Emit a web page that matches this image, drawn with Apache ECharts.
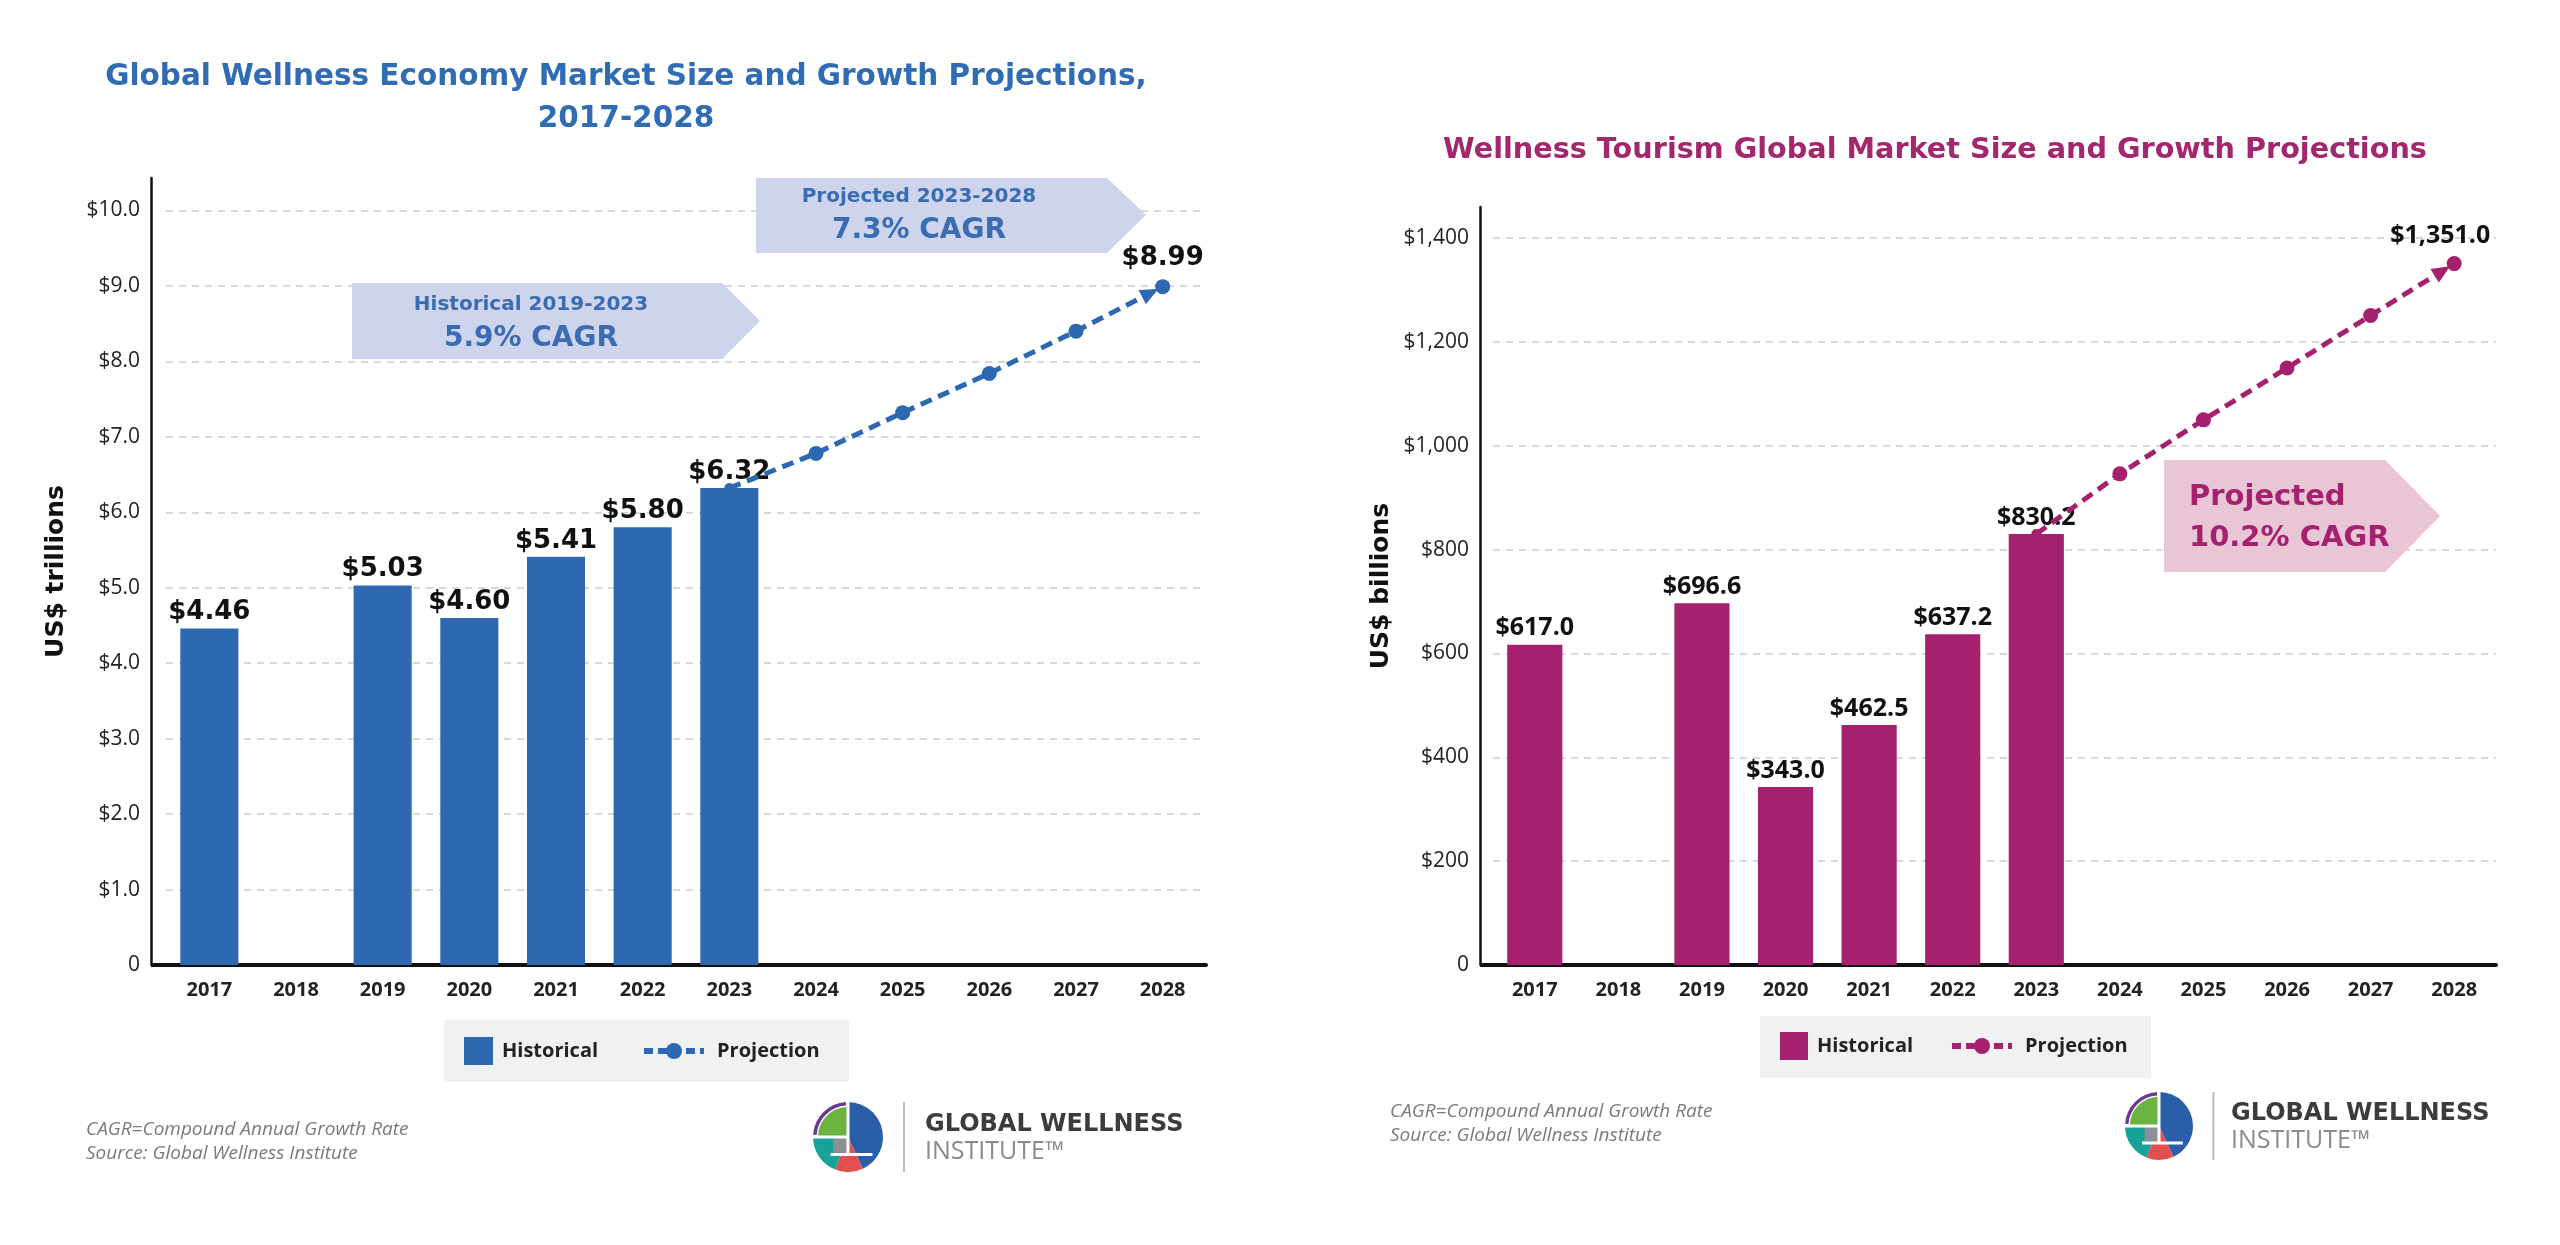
<!DOCTYPE html>
<html>
<head>
<meta charset="utf-8">
<script src="https://cdn.jsdelivr.net/npm/echarts@6/dist/echarts.min.js"></script>
<style>
html,body{margin:0;padding:0;background:#fff;}
#chart{width:2560px;height:1245px;}
</style>
</head>
<body>
<div id="chart"></div>
<script>
// ---------- DATA ----------
const years = ['2017','2018','2019','2020','2021','2022','2023','2024','2025','2026','2027','2028'];
const economyHistorical = [4.46, null, 5.03, 4.60, 5.41, 5.80, 6.32, null, null, null, null, null];
const economyProjection = [null, null, null, null, null, null, 6.32, 6.78, 7.32, 7.84, 8.40, 8.99];
const tourismHistorical = [617.0, null, 696.6, 343.0, 462.5, 637.2, 830.2, null, null, null, null, null];
const tourismProjection = [null, null, null, null, null, null, 830.2, 946, 1050, 1150, 1251, 1351.0];
const economyTitle = 'Global Wellness Economy Market Size and Growth Projections,\n2017-2028';
const tourismTitle = 'Wellness Tourism Global Market Size and Growth Projections';
const economyNotes = ['Historical 2019-2023', '5.9% CAGR', 'Projected 2023-2028', '7.3% CAGR'];
const tourismNotes = ['Projected', '10.2% CAGR'];
const footnotes = ['CAGR=Compound Annual Growth Rate', 'Source: Global Wellness Institute'];

// ---------- STYLE ----------
const FONT = '"Open Sans", "Noto Sans", sans-serif';
const WIDE = '"DejaVu Sans", "Open Sans", sans-serif';
const BLUE = '#2e68b1';
const MAG = '#a5216e';
const last = years.length - 1;

const chart = echarts.init(document.getElementById('chart'));

function fmtEco(v){ return '$' + v.toFixed(2); }
function fmtTour(v){ return '$' + v.toLocaleString('en-US', {minimumFractionDigits:1, maximumFractionDigits:1}); }

function yAxisCommon(extra){
  return Object.assign({
    type: 'value', min: 0,
    nameLocation: 'middle', nameRotate: 90,
    nameTextStyle: {fontFamily: WIDE, fontSize: 25, fontWeight: 'bold', color: '#111'},
    axisLine: {show: true, lineStyle: {color: '#111', width: 2.5}},
    axisTick: {show: false},
    splitLine: {show: true, showMaxLine: false, lineStyle: {color: '#d8d8d8', width: 2, type: [7, 6]}}
  }, extra);
}
function xAxisCommon(idx){
  return {
    type: 'category', gridIndex: idx, data: years,
    axisLine: {show: true, lineStyle: {color: '#111', width: 4}},
    axisTick: {show: false},
    axisLabel: {fontFamily: FONT, fontSize: 20, fontWeight: 'bold', color: '#222', margin: 15, interval: 0}
  };
}

function logo(cx, cy, r, tx){
  const c = [];
  c.push({type:'sector', shape:{cx, cy, r, r0:0, startAngle:-Math.PI/2, endAngle:Math.PI*0.36}, style:{fill:'#2a5ea8'}});
  c.push({type:'sector', shape:{cx, cy, r, r0:0, startAngle:Math.PI*0.36, endAngle:Math.PI*0.62}, style:{fill:'#e0504f'}});
  c.push({type:'sector', shape:{cx, cy, r, r0:0, startAngle:Math.PI*0.62, endAngle:Math.PI*1.0}, style:{fill:'#17a39a'}});
  c.push({type:'sector', shape:{cx, cy, r:r*0.86, r0:0, startAngle:Math.PI*1.0, endAngle:Math.PI*1.5}, style:{fill:'#6cb33f'}});
  c.push({type:'sector', shape:{cx, cy, r, r0:r*0.9, startAngle:Math.PI*1.02, endAngle:Math.PI*1.48}, style:{fill:'#6b3a8e'}});
  c.push({type:'rect', shape:{x:cx - r*0.42, y:cy, width:r*0.4, height:r*0.45}, style:{fill:'#8f8f95'}});
  c.push({type:'line', shape:{x1:cx, y1:cy - r, x2:cx, y2:cy + r*0.5}, style:{stroke:'#fff', lineWidth:3}});
  c.push({type:'line', shape:{x1:cx - r, y1:cy, x2:cx, y2:cy}, style:{stroke:'#fff', lineWidth:3}});
  c.push({type:'line', shape:{x1:cx - r*0.5, y1:cy + r*0.5, x2:cx + r*0.7, y2:cy + r*0.5}, style:{stroke:'#fff', lineWidth:3}});
  c.push({type:'line', shape:{x1:cx + r*1.6, y1:cy - r, x2:cx + r*1.6, y2:cy + r}, style:{stroke:'#bbb', lineWidth:2}});
  c.push({type:'text', x: tx, y: cy - 12, style:{text:'GLOBAL WELLNESS', fontFamily:WIDE, fontSize:24, fontWeight:'bold', fill:'#3c3c3c', verticalAlign:'middle'}});
  c.push({type:'text', x: tx, y: cy + 15, style:{text:'INSTITUTE\u2122', fontFamily:FONT, fontSize:25, fill:'#8a8a8a', verticalAlign:'middle'}});
  return {type:'group', children:c};
}

function arrowBox(pts, fill){
  return {type:'polygon', z:10, shape:{points:pts}, style:{fill}};
}
function txt(x, y, s, size, color, align){
  return {type:'text', z:11, x, y, style:{text:s, fontFamily:WIDE, fontSize:size, fontWeight:'bold', fill:color, align:align||'center', verticalAlign:'middle'}};
}
function legendText(){ return {fontFamily: FONT, fontSize: 20, fontWeight: 'bold', color: '#222'}; }

const option = {
  backgroundColor: '#fff',
  animation: false,
  title: [
    {text: economyTitle, left: 626, top: 56, padding: 0, textAlign: 'center',
     textStyle: {fontFamily: WIDE, fontSize: 29.5, fontWeight: 'bold', color: '#2f6cb4', lineHeight: 42}},
    {text: tourismTitle, left: 1935, top: 131, padding: 0, textAlign: 'center',
     textStyle: {fontFamily: WIDE, fontSize: 28.7, fontWeight: 'bold', color: '#a3276f', lineHeight: 40}}
  ],
  grid: [
    {left: 166, top: 178, width: 1040, height: 787},
    {left: 1493, top: 207, width: 1003, height: 758}
  ],
  xAxis: [xAxisCommon(0), xAxisCommon(1)],
  yAxis: [
    yAxisCommon({gridIndex: 0, max: 10.43, interval: 1, offset: 15, name: 'US$ trillions', nameGap: 82,
      axisLabel: {fontFamily: FONT, fontSize: 21, color: '#222', margin: 11, showMaxLabel: false,
        formatter: v => v === 0 ? '0' : '$' + v.toFixed(1)}}),
    yAxisCommon({gridIndex: 1, max: 1460, interval: 200, offset: 13, name: 'US$ billions', nameGap: 86,
      axisLabel: {fontFamily: FONT, fontSize: 21, color: '#222', margin: 11, showMaxLabel: false,
        formatter: v => v === 0 ? '0' : '$' + v.toLocaleString('en-US')}})
  ],
  legend: [
    {data: ['Economy Historical'], formatter: 'Historical', left: 464, top: 1037, padding: 0,
     icon: 'rect', itemWidth: 29, itemHeight: 28, textStyle: Object.assign(legendText(), {padding: [0,0,0,4]})},
    {data: ['Economy Projection'], formatter: 'Projection', left: 641, top: 1041, padding: 0,
     itemWidth: 60, itemHeight: 20, lineStyle: {width: 6, type: [9, 5]},
     textStyle: Object.assign(legendText(), {padding: [0,0,0,8]})},
    {data: ['Tourism Historical'], formatter: 'Historical', left: 1780, top: 1032, padding: 0,
     icon: 'rect', itemWidth: 28, itemHeight: 28, textStyle: Object.assign(legendText(), {padding: [0,0,0,4]})},
    {data: ['Tourism Projection'], formatter: 'Projection', left: 1949, top: 1036, padding: 0,
     itemWidth: 60, itemHeight: 20, lineStyle: {width: 6, type: [9, 5]},
     textStyle: Object.assign(legendText(), {padding: [0,0,0,8]})}
  ],
  series: [
    {name: 'Economy Historical', type: 'bar', xAxisIndex: 0, yAxisIndex: 0, data: economyHistorical,
     barWidth: '67%', itemStyle: {color: BLUE},
     label: {show: true, position: 'top', distance: 3, fontFamily: WIDE, fontSize: 26, fontWeight: 'bold', color: '#111',
       formatter: p => fmtEco(p.value)}},
    {name: 'Economy Projection', type: 'line', xAxisIndex: 0, yAxisIndex: 0, data: economyProjection,
     symbol: 'circle', symbolSize: (v, p) => p.dataIndex === 6 ? 10 : 15,
     itemStyle: {color: BLUE}, lineStyle: {color: BLUE, width: 5, type: [12, 7]},
     label: {show: true, position: 'top', distance: 8, fontFamily: WIDE, fontSize: 26, fontWeight: 'bold', color: '#111',
       formatter: p => p.dataIndex === last ? fmtEco(p.value) : ''},
     markLine: {silent: true, symbol: ['none', 'triangle'], symbolSize: [16, 18], symbolOffset: [0, [0, 14]],
       itemStyle: {color: BLUE}, lineStyle: {color: BLUE, width: 0}, label: {show: false},
       data: [[{coord: [years[last - 1], economyProjection[last - 1]]}, {coord: [years[last], economyProjection[last]]}]]}},
    {name: 'Tourism Historical', type: 'bar', xAxisIndex: 1, yAxisIndex: 1, data: tourismHistorical,
     barWidth: '66%', itemStyle: {color: MAG},
     label: {show: true, position: 'top', distance: 4, fontFamily: FONT, fontSize: 25, fontWeight: 'bold', color: '#111',
       formatter: p => fmtTour(p.value)}},
    {name: 'Tourism Projection', type: 'line', xAxisIndex: 1, yAxisIndex: 1, data: tourismProjection,
     symbol: 'circle', symbolSize: (v, p) => p.dataIndex === 6 ? 10 : 15,
     itemStyle: {color: MAG}, lineStyle: {color: MAG, width: 5, type: [12, 7]},
     label: {show: true, position: 'top', distance: 8, offset: [-14, 0], fontFamily: FONT, fontSize: 25, fontWeight: 'bold', color: '#111',
       formatter: p => p.dataIndex === last ? fmtTour(p.value) : ''},
     markLine: {silent: true, symbol: ['none', 'triangle'], symbolSize: [16, 18], symbolOffset: [0, [0, 14]],
       itemStyle: {color: MAG}, lineStyle: {color: MAG, width: 0}, label: {show: false},
       data: [[{coord: [years[last - 1], tourismProjection[last - 1]]}, {coord: [years[last], tourismProjection[last]]}]]}}
  ],
  graphic: [
    {type:'line', shape:{x1:151, y1:965, x2:167, y2:965}, style:{stroke:'#111', lineWidth:4}},
    {type:'line', shape:{x1:1480, y1:965, x2:1494, y2:965}, style:{stroke:'#111', lineWidth:4}},
    {type:'rect', z:-1, shape:{x:444, y:1020, width:405, height:62}, style:{fill:'#f0f1f3'}},
    {type:'rect', z:-1, shape:{x:1760, y:1016, width:391, height:62}, style:{fill:'#f0f1f3'}},
    arrowBox([[352,283],[722,283],[760,321],[722,359],[352,359]], '#cdd4ec'),
    txt(531, 305, economyNotes[0], 20, '#3a6cb4'),
    txt(531, 339, economyNotes[1], 28, '#3a6cb4'),
    arrowBox([[756,178],[1107,178],[1146,215],[1107,253],[756,253]], '#cdd4ec'),
    txt(919, 197, economyNotes[2], 20, '#3a6cb4'),
    txt(919, 231, economyNotes[3], 28, '#3a6cb4'),
    arrowBox([[2164,460],[2385,460],[2440,516],[2385,572],[2164,572]], '#e8c6d6'),
    txt(2189, 497, tourismNotes[0], 29, MAG, 'left'),
    txt(2189, 538, tourismNotes[1], 29, MAG, 'left'),
    {type:'text', x:86, y:1130, style:{text:footnotes[0], fontFamily:FONT, fontSize:19, fontStyle:'italic', fill:'#7a7a7a', verticalAlign:'middle'}},
    {type:'text', x:86, y:1154, style:{text:footnotes[1], fontFamily:FONT, fontSize:19, fontStyle:'italic', fill:'#7a7a7a', verticalAlign:'middle'}},
    {type:'text', x:1390, y:1112, style:{text:footnotes[0], fontFamily:FONT, fontSize:19, fontStyle:'italic', fill:'#7a7a7a', verticalAlign:'middle'}},
    {type:'text', x:1390, y:1136, style:{text:footnotes[1], fontFamily:FONT, fontSize:19, fontStyle:'italic', fill:'#7a7a7a', verticalAlign:'middle'}},
    logo(848, 1137, 35, 925),
    logo(2159, 1126, 34, 2231)
  ]
};
chart.setOption(option);
</script>
</body>
</html>
